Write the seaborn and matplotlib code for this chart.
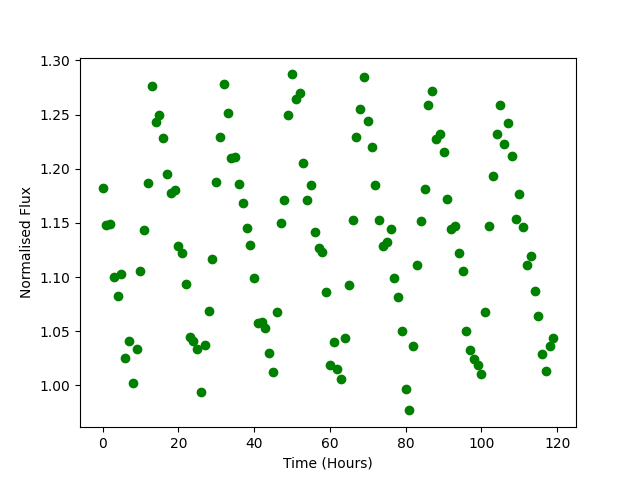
import numpy as np
import pandas as pd
import matplotlib
matplotlib.use("Agg")
import matplotlib.pyplot as plt
import seaborn as sns

# hourly samples
hours = list(range(120))
flux = [
    1.182, 1.148, 1.149, 1.100, 1.083, 1.103, 1.025, 1.041, 1.002, 1.034,
    1.106, 1.143, 1.187, 1.276, 1.243, 1.250, 1.228, 1.195, 1.178, 1.180,
    1.129, 1.122, 1.094, 1.045, 1.041, 1.034, 0.994, 1.037, 1.069, 1.117,
    1.188, 1.229, 1.278, 1.251, 1.210, 1.211, 1.186, 1.168, 1.145, 1.130,
    1.099, 1.058, 1.059, 1.053, 1.030, 1.012, 1.068, 1.150, 1.171, 1.250,
    1.287, 1.264, 1.270, 1.205, 1.171, 1.185, 1.142, 1.127, 1.123, 1.086,
    1.019, 1.040, 1.015, 1.006, 1.044, 1.093, 1.153, 1.229, 1.255, 1.285,
    1.244, 1.220, 1.185, 1.153, 1.129, 1.132, 1.144, 1.099, 1.082, 1.050,
    0.997, 0.977, 1.036, 1.111, 1.152, 1.181, 1.259, 1.272, 1.227, 1.232,
    1.215, 1.172, 1.144, 1.147, 1.122, 1.106, 1.050, 1.033, 1.024, 1.019,
    1.011, 1.068, 1.147, 1.193, 1.232, 1.259, 1.223, 1.242, 1.212, 1.154,
    1.177, 1.146, 1.111, 1.119, 1.087, 1.064, 1.029, 1.013, 1.036, 1.044,
]

df = pd.DataFrame({"Time (Hours)": hours, "Normalised Flux": flux})

plt.style.use('default')
fig, ax = plt.subplots(figsize=(6.4, 4.8), dpi=100)

sns.scatterplot(data=df, x="Time (Hours)", y="Normalised Flux", ax=ax,
                color="green", s=36, edgecolor="green", linewidth=1)

ax.set_xlabel("Time (Hours)")
ax.set_ylabel("Normalised Flux")

fig.savefig("out.png", dpi=100)
